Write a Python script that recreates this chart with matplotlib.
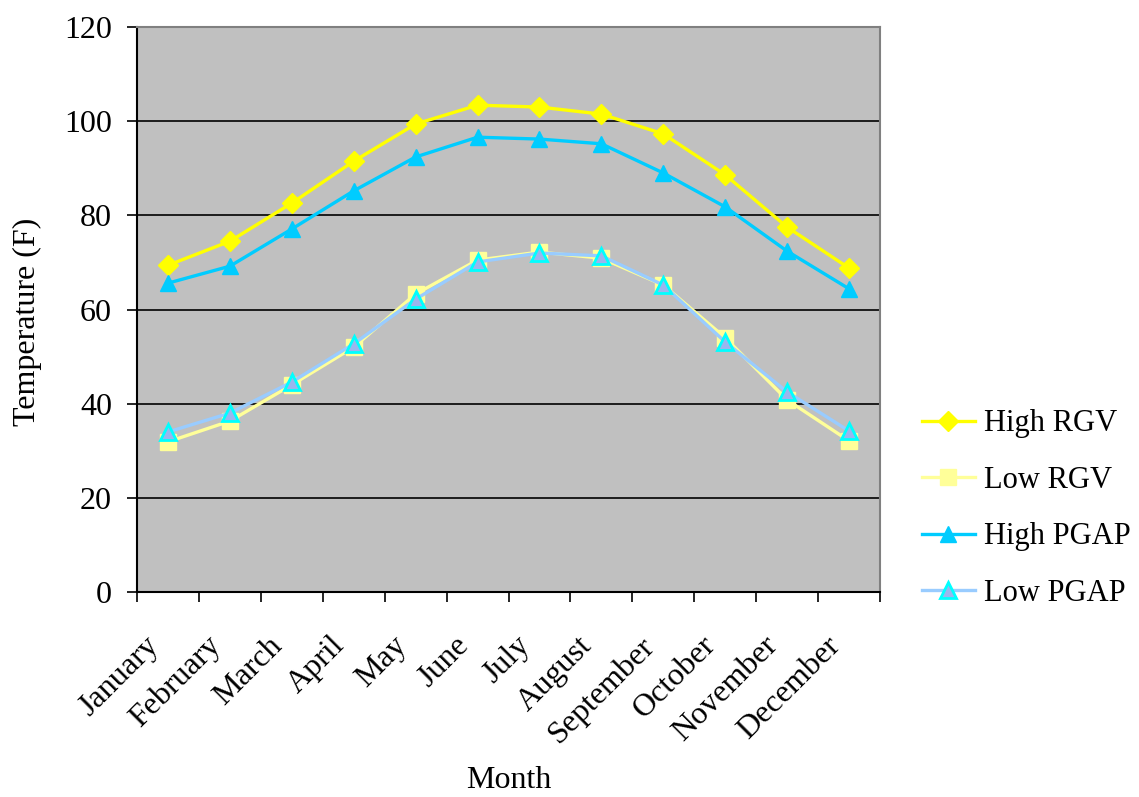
import matplotlib
matplotlib.use("Agg")
import matplotlib.pyplot as plt
import matplotlib.transforms as mtransforms
import numpy as np

months = ["January", "February", "March", "April", "May", "June", "July",
          "August", "September", "October", "November", "December"]
high_rgv = [69.4, 74.5, 82.6, 91.5, 99.4, 103.4, 103.0, 101.5, 97.3, 88.6, 77.5, 68.8]
low_rgv = [31.9, 36.3, 44.0, 52.0, 63.3, 70.5, 72.2, 70.9, 65.2, 54.0, 40.8, 32.1]
high_pgap = [65.6, 69.2, 77.1, 85.2, 92.4, 96.6, 96.2, 95.2, 89.0, 81.8, 72.4, 64.4]
low_pgap = [34.0, 38.0, 44.6, 52.7, 62.2, 70.1, 72.0, 71.4, 65.2, 53.1, 42.5, 34.2]
y_ticks = [0, 20, 40, 60, 80, 100, 120]

plt.rcParams["font.family"] = ["Liberation Serif", "DejaVu Serif"]
fs = 23

fig = plt.figure(figsize=(11.39, 7.97), dpi=100)
ax = fig.add_axes([0.1203, 0.2572, 0.6523, 0.7089])
ax.set_facecolor("#C0C0C0")

x = np.arange(len(months))
lw = 2.4
ax.plot(x, high_rgv, color="#FFFF00", lw=lw, marker="D", ms=10.5,
        mfc="#FFFF00", mec="#FFFF00", label="High RGV", zorder=5)
ax.plot(x, low_rgv, color="#FFFF99", lw=lw, marker="s", ms=11.5,
        mfc="#FFFF99", mec="#FFFF99", label="Low RGV", zorder=4)
ax.plot(x, high_pgap, color="#00CCFF", lw=lw, marker="^", ms=12,
        mfc="#00CCFF", mec="#00CCFF", label="High PGAP", zorder=5)
ax.plot(x, low_pgap, color="#99CCFF", lw=lw, marker="^", ms=11,
        mfc="#9AB6EE", mec="#00FFFF", mew=2, label="Low PGAP", zorder=6)

ax.set_xlim(-0.5, len(months) - 0.5)
ax.set_ylim(0, 120)
ax.set_yticks(y_ticks)
ax.yaxis.grid(True, color="black", lw=1.2)
ax.set_axisbelow(True)

# category ticks sit between categories; labels sit on the categories
ax.set_xticks(np.arange(-0.5, len(months)), minor=False)
ax.set_xticklabels([])
ax.set_xticks(x, minor=True)
ax.set_xticklabels(months, minor=True, rotation=45, ha="right", va="top",
                   rotation_mode="anchor", fontsize=fs)
ax.tick_params(axis="x", which="minor", length=0, pad=28)
ax.tick_params(axis="x", which="major", length=7, width=1.2, color="black")
ax.tick_params(axis="y", length=7, width=1.2, labelsize=fs, pad=11)

shift = mtransforms.ScaledTranslation(-17 / 72, 0, fig.dpi_scale_trans)
for lab in ax.get_xticklabels(minor=True):
    lab.set_transform(lab.get_transform() + shift)

for side in ("top", "right"):
    ax.spines[side].set_color("#808080")
    ax.spines[side].set_linewidth(1.5)
for side in ("left", "bottom"):
    ax.spines[side].set_color("black")
    ax.spines[side].set_linewidth(1.5)

ax.set_ylabel("Temperature (F)", fontsize=fs, va="center")
ax.yaxis.set_label_coords(-0.148, 0.478)
ax.set_xlabel("Month", fontsize=fs, va="center")
ax.xaxis.set_label_coords(0.5, -0.333)

fig.legend(loc="center left", bbox_to_anchor=(0.8095, 0.362), frameon=False,
           fontsize=22, borderpad=0, borderaxespad=0, handlelength=1.72,
           handletextpad=0.32, labelspacing=0.9)

fig.savefig("out.png", dpi=100, facecolor="white")
